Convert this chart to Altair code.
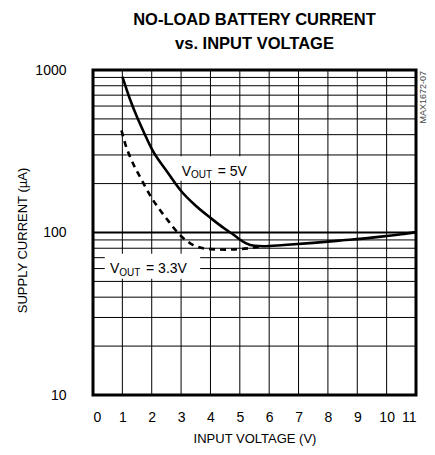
import altair as alt
import pandas as pd

# ---- data ----
vin_5v = [1.0, 1.25, 1.5, 1.75, 2.0, 2.5, 3.0, 3.5, 4.0, 4.5, 4.8, 5.0, 5.2, 5.5, 5.8, 6.5, 7.5, 8.5, 9.5, 10.5, 11.0]
i_5v = [910, 668, 513, 407, 327, 240, 180, 146, 123, 105, 96.5, 90.5, 86, 82.8, 82.3, 83.8, 86.3, 89.5, 93, 97.5, 100.5]

vin_33 = [0.97, 1.1, 1.3, 1.6, 2.0, 2.5, 3.0, 3.4, 4.0, 4.5, 5.0, 5.75]
i_33 = [425, 350, 282, 220, 163, 122, 95, 84, 79, 78.5, 79, 82]

x_grid = [1, 2, 3, 4, 5, 6, 7, 8, 9, 10]
x_ticks = [0, 1, 2, 3, 4, 5, 6, 7, 8, 9, 10, 11]
y_grid = [20, 30, 40, 50, 60, 70, 80, 90, 100, 200, 300, 400, 500, 600, 700, 800, 900]
y_ticks = [10, 100, 1000]
x_range = [0, 11]
y_range = [10, 1000]

title_lines = ["NO-LOAD BATTERY CURRENT", "vs. INPUT VOLTAGE"]
x_title = "INPUT VOLTAGE (V)"
y_title = "SUPPLY CURRENT (µA)"
part_code = "MAX1672-07"

# annotation label parts and anchors (data coordinates)
lab_x = [3.02, 0.58]
lab_y = [222.8, 56.1]
lab_main = ["V", "V"]
lab_sub = ["OUT", "OUT"]
lab_rest = ["= 5V", "= 3.3V"]
# white boxes behind labels (data coordinates)
box_x = [2.9, 0.4]
box_x2 = [5.35, 3.65]
box_y = [295, 74]
box_y2 = [208, 52]

FONT = "Liberation Sans"
W, H = 323, 325

curves = pd.DataFrame(
    {"v": vin_5v + vin_33,
     "i": i_5v + i_33,
     "s": ["5V"] * len(vin_5v) + ["3.3V"] * len(vin_33)}
)
labels = pd.DataFrame({"x": lab_x, "y": lab_y, "m": lab_main, "sub": lab_sub, "r": lab_rest})
boxes = pd.DataFrame({"x": box_x, "x2": box_x2, "y": box_y, "y2": box_y2})
code_df = pd.DataFrame({"x": [11.24], "y": [680], "t": [part_code]})

# vertical grid as short segments between successive horizontal grid values
levels = [y_range[0]] + y_grid + [y_range[1]]
vrows = []
for g in x_grid:
    for a, b in zip(levels[:-1], levels[1:]):
        vrows.append({"gx": float(g), "ya": float(a), "yb": float(b)})
vgrid_df = pd.DataFrame(vrows)
hgrid_df = pd.DataFrame({"hy": [float(g) for g in y_grid],
                         "w": [2.0 if g == 100 else 1.0 for g in y_grid]})

xscale = alt.Scale(domain=x_range, nice=False, zero=False)
yscale = alt.Scale(type="log", domain=y_range, nice=False)

xaxis = alt.Axis(values=x_ticks, tickCount=12, grid=False, ticks=False, domain=False, labelOverlap=False,
                 labelFont=FONT, labelFontSize=14, labelColor="#000", labelPadding=15,
                 title=x_title, titleFont=FONT, titleFontSize=13, titleFontWeight="normal",
                 titleColor="#000", titleBaseline="alphabetic", titleY=47)
yaxis = alt.Axis(values=y_ticks, grid=False, ticks=False, domain=False, format="d", labelOverlap=False,
                 labelFont=FONT, labelFontSize=14, labelColor="#000", labelPadding=27,
                 title=y_title, titleFont=FONT, titleFontSize=13, titleFontWeight="normal",
                 titleColor="#000", titleAngle=270, titleX=-71, titleY=170,
                 titleAlign="center", titleBaseline="middle")

vgrid = alt.Chart(vgrid_df).mark_rule(color="#000", strokeWidth=1).encode(
    x=alt.X("gx:Q", scale=xscale, axis=xaxis),
    y=alt.Y("ya:Q", scale=yscale, axis=yaxis),
    y2="yb:Q")
hgrid = alt.Chart(hgrid_df).mark_rule(color="#000").encode(
    y="hy:Q", strokeWidth=alt.StrokeWidth("w:Q", scale=None, legend=None))

base = alt.Chart(curves)
solid = base.transform_filter(alt.datum.s == "5V").mark_line(
    color="#000", strokeWidth=2.6, interpolate="monotone"
).encode(x="v:Q", y="i:Q")
dashed = base.transform_filter(alt.datum.s == "3.3V").mark_line(
    color="#000", strokeWidth=2.6, strokeDash=[6, 5], interpolate="monotone"
).encode(x="v:Q", y="i:Q")

box = alt.Chart(boxes).mark_rect(color="white").encode(x="x:Q", x2="x2", y="y:Q", y2="y2")

t_main = alt.Chart(labels).mark_text(font=FONT, fontSize=14, align="left", baseline="alphabetic",
                                      color="#000").encode(x="x:Q", y="y:Q", text="m:N")
t_sub = alt.Chart(labels).mark_text(font=FONT, fontSize=10, align="left", baseline="alphabetic",
                                     dx=9.3, dy=2.5, color="#000").encode(x="x:Q", y="y:Q", text="sub:N")
t_rest = alt.Chart(labels).mark_text(font=FONT, fontSize=14, align="left", baseline="alphabetic",
                                      dx=36, color="#000").encode(x="x:Q", y="y:Q", text="r:N")

code = alt.Chart(code_df).mark_text(font=FONT, fontSize=9, angle=270, align="center",
                                     baseline="middle", color="#444").encode(x="x:Q", y="y:Q", text="t:N")

chart = alt.layer(vgrid, hgrid, solid, dashed, box, t_main, t_sub, t_rest, code).properties(
    width=W, height=H,
    title=alt.TitleParams(text=title_lines, font=FONT, fontSize=16.5, fontWeight="bold",
                          color="#000", anchor="middle", lineHeight=24, offset=11, frame="group"),
    padding={"left": 85, "top": 62, "right": 11, "bottom": 52},
    autosize=alt.AutoSizeParams(type="none"),
).configure_view(stroke="#000", strokeWidth=3)

chart.save("out.html", embed_options={"renderer": "svg", "actions": False})
